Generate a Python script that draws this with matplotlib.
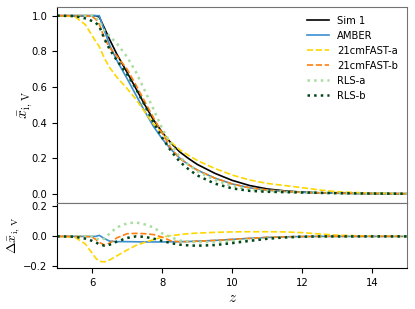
import numpy as np
import matplotlib
matplotlib.use('Agg')
from matplotlib import pyplot as plt

plt.rcParams['mathtext.fontset'] = 'cm'
plt.rcParams['font.size'] = 7.2

# redshift grid
z = [5.0, 5.5, 5.8, 6.0, 6.1, 6.2, 6.35, 6.5, 6.7, 7.0, 7.25, 7.5, 7.75, 8.0,
     8.25, 8.5, 8.75, 9.0, 9.5, 10.0, 10.5, 11.0, 11.5, 12.0, 12.5, 13.0, 14.0, 15.0]

# reference simulation (neutral fraction)
sim1 = [1.0, 1.0, 1.0, 1.0, 1.0, 0.993, 0.93, 0.865, 0.785, 0.68, 0.59, 0.50, 0.415, 0.345,
        0.285, 0.235, 0.198, 0.165, 0.115, 0.075, 0.046, 0.027, 0.016, 0.009, 0.005, 0.003, 0.001, 0.0]

# differences to Sim 1 (bottom panel)
d_amber = [0, 0, 0, 0, 0, 0.007, -0.015, -0.032, -0.035, -0.035, -0.036, -0.037, -0.037, -0.037,
           -0.036, -0.035, -0.034, -0.032, -0.027, -0.02, -0.013, -0.007, -0.003, -0.001, 0, 0, 0, 0]
d_fast_a = [0, -0.005, -0.05, -0.113, -0.145, -0.166, -0.17, -0.157, -0.13, -0.09, -0.06, -0.04, -0.022, -0.005,
            0.005, 0.012, 0.018, 0.022, 0.027, 0.03, 0.031, 0.031, 0.03, 0.025, 0.016, 0.008, 0.002, 0.0]
d_fast_b = [0, 0, 0, -0.005, -0.02, -0.04, -0.057, -0.045, -0.01, 0.018, 0.02, 0.018, 0.012, -0.005,
            -0.03, -0.036, -0.035, -0.032, -0.027, -0.02, -0.013, -0.006, -0.003, -0.001, 0, 0, 0, 0]
d_rls_a = [0, 0, 0, 0, -0.01, -0.025, -0.015, 0.02, 0.06, 0.087, 0.093, 0.08, 0.06, 0.02,
           -0.005, -0.028, -0.035, -0.038, -0.038, -0.032, -0.022, -0.012, -0.006, -0.002, 0, 0, 0, 0]
d_rls_b = [0, -0.002, -0.015, -0.03, -0.04, -0.052, -0.062, -0.055, -0.035, -0.01, 0.0, -0.003, -0.015, -0.03,
           -0.045, -0.055, -0.06, -0.062, -0.058, -0.045, -0.03, -0.016, -0.007, -0.002, 0, 0, 0, 0]

labels = ['Sim 1', 'AMBER', '21cmFAST-a', '21cmFAST-b', 'RLS-a', 'RLS-b']
colors = ['black', '#3b8fcf', '#ffd700', '#ff7f0e', '#a8dca0', '#00441b']
styles = ['-', '-', '--', '--', ':', ':']

z = np.array(z)
sim1 = np.array(sim1)
deltas = [np.zeros_like(sim1), np.array(d_amber), np.array(d_fast_a),
          np.array(d_fast_b), np.array(d_rls_a), np.array(d_rls_b)]

fig = plt.figure(figsize=(4.15, 3.09), dpi=100)
gs = fig.add_gridspec(2, 1, height_ratios=[3, 1], hspace=0,
                      left=0.138, right=0.981, top=0.978, bottom=0.133)
ax1 = fig.add_subplot(gs[0])
ax2 = fig.add_subplot(gs[1], sharex=ax1)

for d, lab, c, ls in zip(deltas, labels, colors, styles):
    lw = 1.8 if ls == ':' else 1.2
    ax1.plot(z, sim1 + d, color=c, ls=ls, lw=lw, label=lab)
    if lab != 'Sim 1':
        ax2.plot(z, d, color=c, ls=ls, lw=lw)

ax1.set_xlim(5, 15)
ax1.set_ylim(-0.05, 1.05)
ax2.set_ylim(-0.21, 0.225)
ax1.set_yticks([0.0, 0.2, 0.4, 0.6, 0.8, 1.0])
ax2.set_yticks([-0.2, 0.0, 0.2])
ax2.set_xticks([6, 8, 10, 12, 14])
ax1.tick_params(axis='x', bottom=False, labelbottom=False)

ax1.set_ylabel(r'$\bar{x}_{\rm i,\,V}$', fontsize=11, va='center')
ax2.set_ylabel(r'$\Delta\bar{x}_{\rm i,\,V}$', fontsize=10, va='center')
ax1.yaxis.set_label_coords(-0.092, 0.5)
ax2.yaxis.set_label_coords(-0.125, 0.5)
ax2.set_xlabel(r'$z$', fontsize=11, labelpad=2)

for ax in (ax1, ax2):
    for s in ('top', 'right'):
        ax.spines[s].set_color('0.45')
ax1.spines['bottom'].set_color('0.45')
ax2.spines['top'].set_color('0.45')

ax1.legend(loc='upper right', frameon=False, fontsize=7.2, handlelength=2.2)

plt.savefig('out.png', dpi=100)
